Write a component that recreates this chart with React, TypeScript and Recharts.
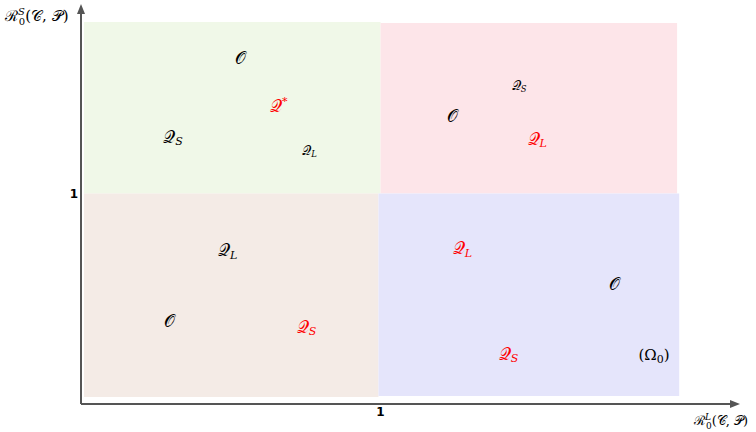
import React from "react";
import {
  ScatterChart,
  Scatter,
  XAxis,
  YAxis,
  ReferenceArea,
  ReferenceLine,
} from "recharts";

// quadrant regions (R0^L on x, R0^S on y)
const regionNames = ["green", "pink", "brown", "blue"];
const regionX1 = [0.01, 1.0, 0.01, 0.993];
const regionX2 = [1.0, 1.99, 0.993, 1.997];
const regionY1 = [1.0, 1.0, 0.033, 0.038];
const regionY2 = [1.815, 1.81, 1.0, 1.0];

// marks inside the regions
const markBase = ["O", "Q", "Q", "Q", "Q", "O", "Q", "Q", "O", "Q", "Q", "O", "Q", "Ω"];
const markSub = ["", "*", "S", "L", "S", "", "L", "L", "", "S", "L", "", "S", "0"];
const markX = [0.533, 0.66, 0.307, 0.763, 1.463, 1.24, 1.523, 0.49, 0.297, 0.753, 1.273, 1.78, 1.427, 1.913];
const markY = [1.645, 1.417, 1.27, 1.204, 1.512, 1.37, 1.261, 0.73, 0.393, 0.365, 0.739, 0.569, 0.237, 0.232];
const markRed = [false, true, false, false, false, false, true, false, false, true, true, false, true, false];

const xTicks = [1];
const yTicks = [1];

const regionFill: Record<string, string> = {
  green: "#f0f8e8",
  pink: "#fde5e9",
  brown: "#f4ebe6",
  blue: "#e5e5fb",
};

const smallMarks = new Set([3, 4]);
const SCRIPT: Record<string, string> = { O: "\u{1D4AA}", Q: "\u{1D4AC}" };
const MATH_FONT = "'DejaVu Serif', 'Liberation Serif', serif";

const marks = markX.map((x, i) => ({
  x,
  y: markY[i],
  base: markBase[i],
  sub: markSub[i],
  red: markRed[i],
  idx: i,
}));

function MarkShape(props: any) {
  const { cx, cy, payload } = props;
  const fill = payload.red ? "#ff0000" : "#000000";
  const size = smallMarks.has(payload.idx) ? 13 : 17;
  if (payload.base === "Ω") {
    return (
      <text x={cx} y={cy} fill={fill} fontSize={15} fontFamily={MATH_FONT} textAnchor="middle" dominantBaseline="central">
        (Ω<tspan fontSize={11} dy={4}>0</tspan>
        <tspan dy={-4}>)</tspan>
      </text>
    );
  }
  const star = payload.sub === "*";
  return (
    <text x={cx} y={cy} fill={fill} fontSize={size} fontFamily={MATH_FONT} textAnchor="middle" dominantBaseline="central">
      {SCRIPT[payload.base]}
      {payload.sub && (
        <tspan fontSize={size * 0.65} fontStyle="italic" dy={star ? -size * 0.3 : size * 0.25}>
          {payload.sub}
        </tspan>
      )}
    </text>
  );
}

function AxisArrow(props: any) {
  const { x1, y1, x2, y2 } = props;
  const dx = x2 - x1;
  const dy = y2 - y1;
  const len = Math.sqrt(dx * dx + dy * dy) || 1;
  const ux = dx / len;
  const uy = dy / len;
  const hl = 10;
  const hw = 4;
  const bx = x2 - ux * hl;
  const by = y2 - uy * hl;
  return (
    <g>
      <line x1={x1} y1={y1} x2={bx} y2={by} stroke="#555" strokeWidth={2} />
      <polygon
        points={`${x2},${y2} ${bx - uy * hw},${by + ux * hw} ${bx + uy * hw},${by - ux * hw}`}
        fill="#555"
      />
    </g>
  );
}

function XTick(props: any) {
  const { x, y, payload } = props;
  return (
    <text x={x} y={y + 10} textAnchor="middle" fontSize={12} fontWeight="bold" fontFamily="'DejaVu Sans', sans-serif" fill="#000">
      {payload.value}
    </text>
  );
}

function YTick(props: any) {
  const { x, y, payload } = props;
  return (
    <text x={x - 1} y={y + 5} textAnchor="end" fontSize={12} fontWeight="bold" fontFamily="'DejaVu Sans', sans-serif" fill="#000">
      {payload.value}
    </text>
  );
}

export default function App() {
  return (
    <div style={{ position: "absolute", left: 0, top: 0, background: "#fff" }}>
      <ScatterChart width={756} height={432} margin={{ top: 4, right: 16, bottom: 27, left: 80 }}>
        <XAxis
          type="number"
          dataKey="x"
          domain={[0, 2.2]}
          ticks={xTicks}
          interval={0}
          height={1}
          axisLine={false}
          tickLine={false}
          tickSize={0}
          tick={<XTick />}
          allowDataOverflow
        />
        <YAxis
          type="number"
          dataKey="y"
          domain={[0, 1.9]}
          ticks={yTicks}
          interval={0}
          width={1}
          axisLine={false}
          tickLine={false}
          tickSize={0}
          tick={<YTick />}
          allowDataOverflow
        />
        {regionNames.map((n, i) => (
          <ReferenceArea
            key={n}
            x1={regionX1[i]}
            x2={regionX2[i]}
            y1={regionY1[i]}
            y2={regionY2[i]}
            fill={regionFill[n]}
            fillOpacity={1}
            stroke="none"
          />
        ))}
        <ReferenceLine segment={[{ x: 0, y: 0 }, { x: 0, y: 1.9 }]} shape={AxisArrow} />
        <ReferenceLine segment={[{ x: 0, y: 0 }, { x: 2.2, y: 0 }]} shape={AxisArrow} />
        <Scatter data={marks} shape={MarkShape} isAnimationActive={false} />
        <text x={5} y={21} fontFamily={MATH_FONT} fontSize={15} fill="#000">
          ℛ<tspan fontSize={10} fontStyle="italic" dy={-6}>S</tspan>
          <tspan fontSize={10} dx={-6} dy={10}>0</tspan>
          <tspan dy={-4}>({"\u{1D49E}"}, {"\u{1D4AB}"})</tspan>
        </text>
        <text x={694} y={425} fontFamily={MATH_FONT} fontSize={13} fill="#000">
          ℛ<tspan fontSize={9} fontStyle="italic" dy={-5}>L</tspan>
          <tspan fontSize={9} dx={-5} dy={9}>0</tspan>
          <tspan dy={-4}>({"\u{1D49E}"}, {"\u{1D4AB}"})</tspan>
        </text>
      </ScatterChart>
    </div>
  );
}
